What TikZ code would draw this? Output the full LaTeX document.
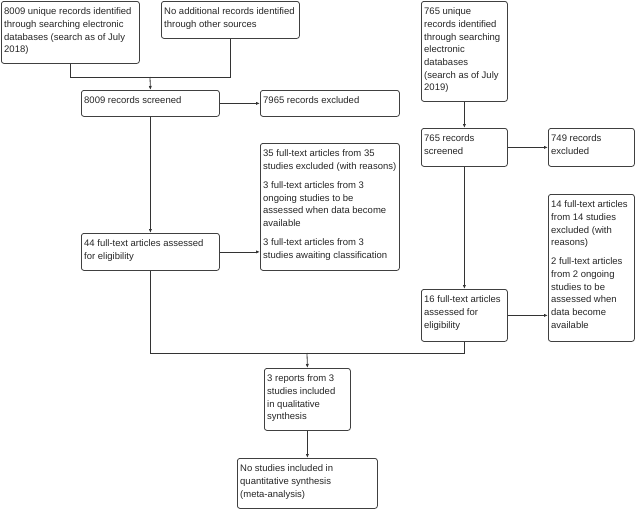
\documentclass[tikz,border=0pt]{standalone}
\usepackage{fontspec}
\setmainfont{Liberation Sans}
\usetikzlibrary{arrows.meta}
\newcommand\flowbox[6]{%
  \node[box, minimum width=#4pt, minimum height=#5pt] (#1) at (#2,#3) {};
  \node[txt] (#1t) at ([xshift=3pt,yshift=-3pt]#1.north west) {\rule{0pt}{10.5pt}#6};}
\begin{document}
\begin{tikzpicture}[x=1pt,y=-1pt,
  box/.style={draw=black!75, line width=0.8pt, rounded corners=2.5pt, anchor=north west, inner sep=0pt},
  txt/.style={anchor=north west, inner sep=0pt, align=left, font=\fontsize{9.5}{12.7}\selectfont, text=black!85},
  link/.style={draw=black!80, line width=0.8pt},
  arr/.style={link, -{Latex[length=4pt,width=3.2pt]}}]
\useasboundingbox (0,0) rectangle (635,509);

\flowbox{A}{1}{1}{138}{62}{8009 unique records identified\\through searching electronic\\databases (search as of July\\2018)}
\flowbox{B}{161}{1}{138}{37}{No additional records identified\\through other sources}
\flowbox{C}{81}{90}{138}{26}{8009 records screened}
\flowbox{D}{260}{90}{139}{26}{7965 records excluded}
\flowbox{E}{260}{143}{139}{127}{35 full-text articles from 35\\studies excluded (with reasons)\\[6.3pt]3 full-text articles from 3\\ongoing studies to be\\assessed when data become\\available\\[6.3pt]3 full-text articles from 3\\studies awaiting classification}
\flowbox{F}{81}{233}{138}{37}{44 full-text articles assessed\\for eligibility}
\flowbox{H}{421}{1}{86}{100}{765 unique\\records identified\\through searching\\electronic\\databases\\(search as of July\\2019)}
\flowbox{I}{421}{128}{86}{38}{765 records\\screened}
\flowbox{J}{548}{128}{86}{38}{749 records\\excluded}
\flowbox{K}{548}{194}{86}{147}{14 full-text articles\\from 14 studies\\excluded (with\\reasons)\\[6.3pt]2 full-text articles\\from 2 ongoing\\studies to be\\assessed when\\data become\\available}
\flowbox{G}{421}{289}{86}{52}{16 full-text articles\\assessed for\\eligibility}
\flowbox{L}{264}{368}{86}{62}{3 reports from 3\\studies included\\in qualitative\\synthesis}
\flowbox{M}{237}{458}{140}{50}{No studies included in\\quantitative synthesis\\(meta-analysis)}

\coordinate (m1) at (150,77);
\coordinate (m2) at (307,353);

\draw[link] (A.south) |- (m1);
\draw[link] (B.south) |- (m1);
\draw[arr] (m1) -- (C.north);
\draw[arr] (C.east) -- (D.west);
\draw[arr] (C.south) -- (F.north);
\draw[arr] (F.east) -- (F.east -| E.west);
\draw[arr] (H.south) -- (I.north);
\draw[arr] (I.east) -- (J.west);
\draw[arr] (I.south) -- (G.north);
\draw[arr] (G.east) -- (G.east -| K.west);
\draw[link] (F.south) |- (m2);
\draw[link] (G.south) |- (m2);
\draw[arr] (m2) -- (L.north);
\draw[arr] (L.south) -- (M.north);
\end{tikzpicture}
\end{document}
